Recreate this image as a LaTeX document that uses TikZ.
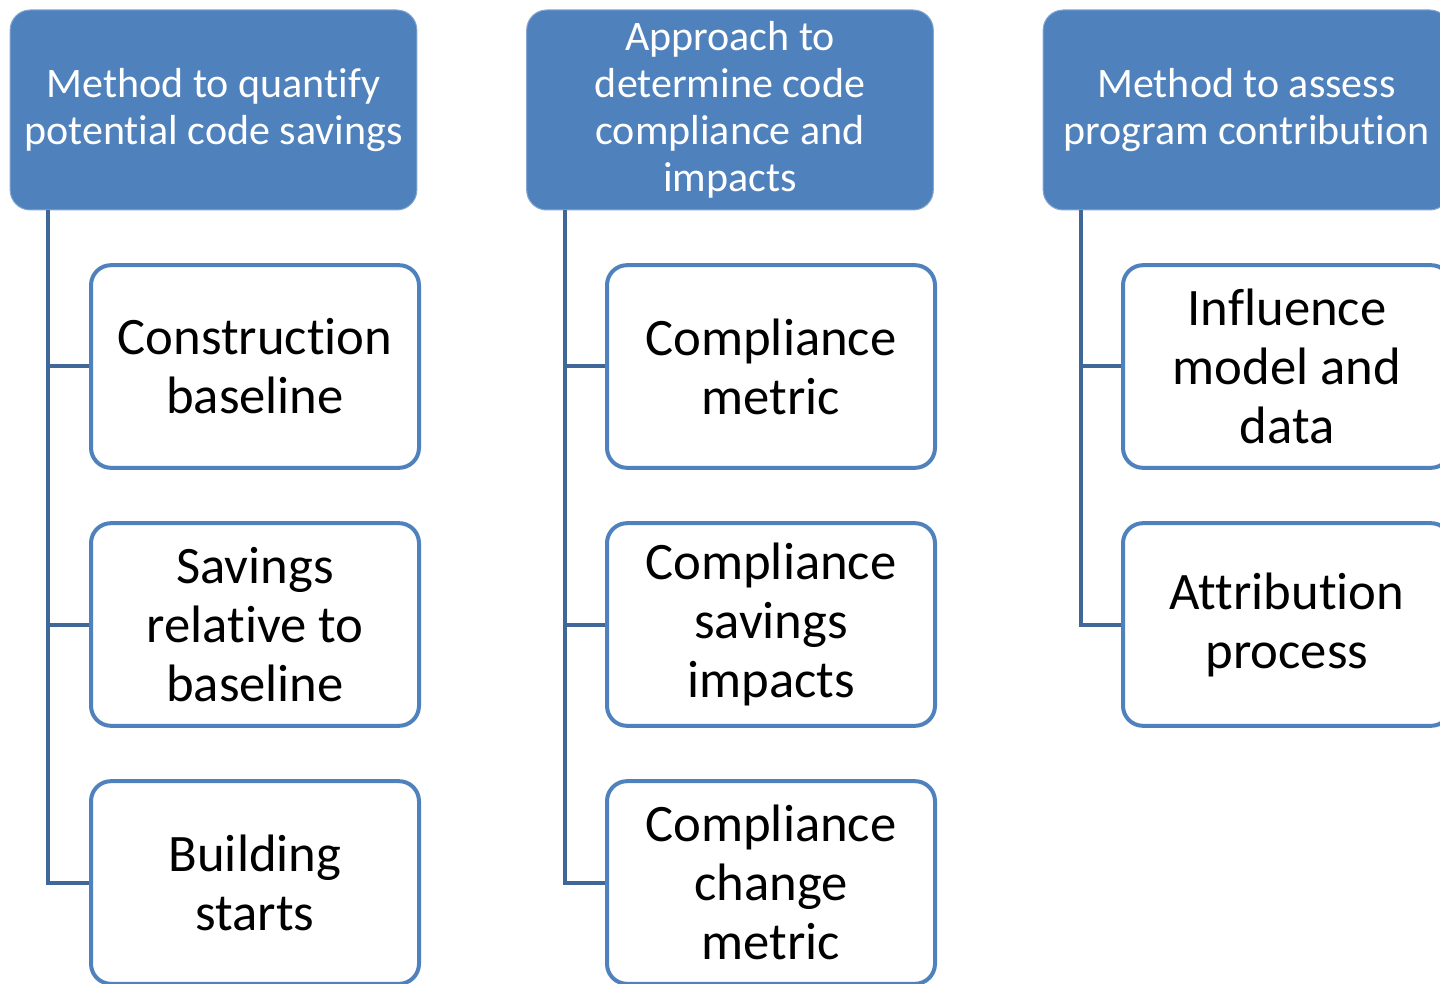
\documentclass[tikz,border=0pt]{standalone}
\usepackage{fontspec}
\setmainfont[Ligatures=NoCommon,RawFeature={-liga;-clig;-calt}]{Carlito}

\definecolor{headblue}{HTML}{4F81BD}
\definecolor{linkblue}{HTML}{3F6899}

\tikzset{every picture/.style={line width=0.75pt}}
\tikzset{
  headbox/.style={fill=headblue, draw=headblue!70!white, line width=0.75pt, rounded corners=15pt,
    minimum width=305pt, minimum height=150pt, align=center, text=white,
    font=\fontsize{31.5}{35.25}\selectfont, inner sep=0pt},
  itembox/.style={draw=headblue, fill=white, line width=3pt, rounded corners=15pt,
    minimum width=246pt, minimum height=152pt, align=center, text=black,
    font=\fontsize{39.5}{44.25}\selectfont, inner sep=0pt},
  link/.style={draw=linkblue, line width=3pt}
}

\begin{document}
\begin{tikzpicture}[x=0.75pt,y=0.75pt,yscale=-1,xscale=1]
        \useasboundingbox (0,0) rectangle (1440,984);

        %Shape: Header boxes
        \node [headbox] (hA) at (213.5,110) {Method to quantify\\potential code savings};
        \node [headbox] (hB) at (730,110) {Approach to\\determine code\\compliance and\\impacts};
        \node [headbox] (hC) at (1246.5,110) {Method to assess\\program contribution};

        %Shape: Item boxes, first column
        \node [itembox] (cA1) at (255,366.5) {Construction\\baseline};
        \node [itembox] (cA2) at (255,624.5) {Savings\\relative to\\baseline};
        \node [itembox] (cA3) at (255,882.5) {Building\\starts};
        %Shape: Item boxes, second column
        \node [itembox] (cB1) at (771,366.5) {Compliance\\metric};
        \node [itembox] (cB2) at (771,624.5) {Compliance\\savings\\impacts};
        \node [itembox] (cB3) at (771,882.5) {Compliance\\change\\metric};
        %Shape: Item boxes, third column
        \node [itembox] (cC1) at (1287,366.5) {Influence\\model and\\data};
        \node [itembox] (cC2) at (1287,624.5) {Attribution\\process};

        %Straight Lines: spines under the headers
        \coordinate (sA) at (48,210);
        \coordinate (sB) at (565,210);
        \coordinate (sC) at (1081,210);

        \draw [link]  (sA) |- (cA3.west) ;
        \draw [link]  (cA1.west) -- (cA1.west -| sA) ;
        \draw [link]  (cA2.west) -- (cA2.west -| sA) ;

        \draw [link]  (sB) |- (cB3.west) ;
        \draw [link]  (cB1.west) -- (cB1.west -| sB) ;
        \draw [link]  (cB2.west) -- (cB2.west -| sB) ;

        \draw [link]  (sC) |- (cC2.west) ;
        \draw [link]  (cC1.west) -- (cC1.west -| sC) ;

    \end{tikzpicture}
\end{document}
